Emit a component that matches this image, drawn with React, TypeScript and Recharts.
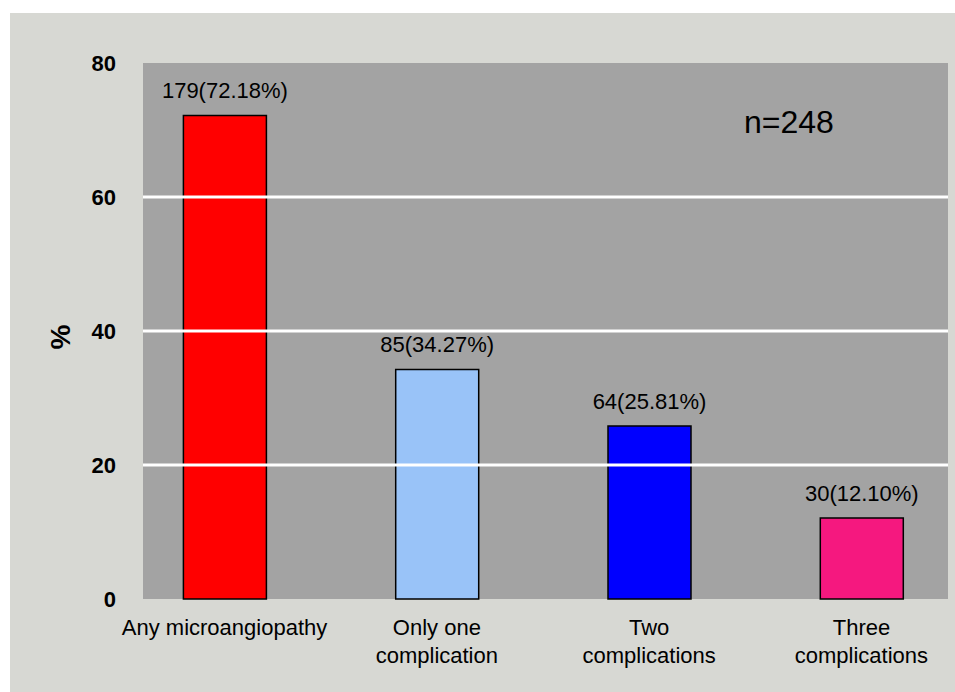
import React from "react";
import {
  BarChart,
  Bar,
  XAxis,
  YAxis,
  CartesianGrid,
  ReferenceLine,
  LabelList,
  Cell,
} from "recharts";

const categories = [
  "Any microangiopathy",
  "Only one\ncomplication",
  "Two\ncomplications",
  "Three\ncomplications",
];
const counts = [179, 85, 64, 30];
const percents = [72.18, 34.27, 25.81, 12.1];
const barColors = ["#FF0000", "#99C3F8", "#0000FF", "#F5187F"];
const yTicks = [0, 20, 40, 60, 80];
const gridValues = [20, 40, 60];
const sampleNote = "n=248";

const FONT = "'Liberation Sans', Arial, Helvetica, sans-serif";

const data = categories.map((name, i) => ({
  name,
  count: counts[i],
  pct: percents[i],
}));

function CategoryTick(props: any) {
  const { x, y, payload } = props;
  const lines: string[] = String(payload.value).split("\n");
  return (
    <g>
      {lines.map((line, i) => (
        <text
          key={i}
          x={x}
          y={y + 36 + i * 28}
          textAnchor="middle"
          fontSize={22}
          fontFamily={FONT}
          fill="#000"
        >
          {line}
        </text>
      ))}
    </g>
  );
}

function ValueLabel(props: any) {
  const { x, y, width, index } = props;
  return (
    <text
      x={x + width / 2}
      y={y - 17}
      textAnchor="middle"
      fontSize={22}
      fontFamily={FONT}
      fill="#000"
    >
      {`${counts[index]}(${percents[index].toFixed(2)}%)`}
    </text>
  );
}

function PercentLabel(props: any) {
  const { viewBox } = props;
  const cx = viewBox.x - 23;
  const cy = viewBox.y + viewBox.height / 2 + 6;
  return (
    <text
      x={cx}
      y={cy}
      transform={`rotate(-90 ${cx} ${cy})`}
      textAnchor="middle"
      dominantBaseline="central"
      fontSize={28}
      fontWeight="bold"
      fontFamily={FONT}
      fill="#000"
    >
      %
    </text>
  );
}

export default function App() {
  return (
    <div
      style={{
        position: "absolute",
        left: 0,
        top: 0,
        width: 955,
        height: 692,
        background: "#ffffff",
        overflow: "hidden",
      }}
    >
      <div
        style={{
          position: "absolute",
          left: 10,
          top: 13,
          width: 945,
          height: 679,
          background: "#D7D8D3",
        }}
      />
      <div style={{ position: "absolute", left: 0, top: 0 }}>
        <BarChart
          width={955}
          height={692}
          data={data}
          margin={{ top: 63, right: 7, bottom: 33, left: 83 }}
        >
          <CartesianGrid
            fill="#A3A3A3"
            fillOpacity={1}
            horizontal={false}
            vertical={false}
            stroke="none"
          />
          {gridValues.map((v) => (
            <ReferenceLine key={v} y={v} stroke="#FFFFFF" strokeWidth={3} />
          ))}
          <XAxis
            dataKey="name"
            axisLine={false}
            tickLine={false}
            tickSize={0}
            tickMargin={0}
            height={60}
            interval={0}
            padding={{ left: -24.6, right: -19.6 }}
            tick={<CategoryTick />}
          />
          <YAxis
            domain={[0, 80]}
            ticks={yTicks}
            axisLine={false}
            tickLine={false}
            tickSize={0}
            tickMargin={27}
            width={60}
            tick={{ fontSize: 22, fontWeight: "bold", fill: "#000", fontFamily: FONT }}
            label={<PercentLabel />}
          />
          <Bar
            dataKey="pct"
            barSize={83}
            stroke="#000"
            strokeWidth={1.5}
            isAnimationActive={false}
          >
            {data.map((d, i) => (
              <Cell key={d.name} fill={barColors[i]} />
            ))}
            <LabelList dataKey="pct" content={<ValueLabel />} />
          </Bar>
        </BarChart>
      </div>
      <svg
        width={955}
        height={692}
        style={{ position: "absolute", left: 0, top: 0, pointerEvents: "none" }}
      >
        <text x={744} y={133} fontSize={32} fontFamily={FONT} fill="#000">
          {sampleNote}
        </text>
      </svg>
    </div>
  );
}
